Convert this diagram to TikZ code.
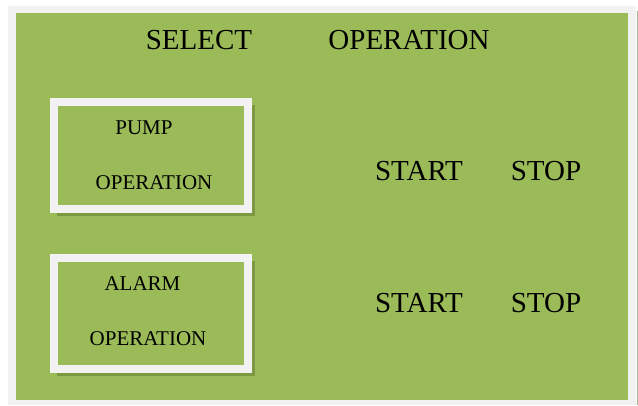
\documentclass[tikz,border=0pt]{standalone}
\usepackage{fontspec}
\setmainfont{Liberation Serif}
\begin{document}
\begin{tikzpicture}[x=1pt,y=-1pt,
  bigtxt/.style={font=\fontsize{29}{31}\selectfont, text=black, inner sep=0pt},
  smalltxt/.style={font=\fontsize{21}{23}\selectfont, text=black, inner sep=0pt},
  framebox/.style={draw=framegray, line width=8pt, fill=panelgreen},
  shadowbox/.style={fill=shadowgreen}]
\definecolor{panelgreen}{HTML}{9BBB59}
\definecolor{framegray}{HTML}{F2F2F2}
\definecolor{shadowgreen}{HTML}{76923C}
\definecolor{edgegray}{HTML}{A9B59C}
\useasboundingbox (0,0) rectangle (638,405);
\fill[white] (0,0) rectangle (638,405);
% outer gray border and right-edge strip
\fill[framegray] (8,6) rectangle (635.5,405);
\fill[edgegray] (636.5,11) rectangle (638,405);
% green panel
\fill[panelgreen] (16,13) rectangle (628,400);
% pump box
\fill[shadowgreen!85!panelgreen] (57,105) rectangle (255,216);
\draw[framebox] (54,102) rectangle (248,209);
\node[smalltxt] (pump1) at (144,127.5) {PUMP};
\node[smalltxt] (pump2) at (154,183) {OPERATION};
% alarm box
\fill[shadowgreen!85!panelgreen] (57,261) rectangle (255,376);
\draw[framebox] (54,258) rectangle (248,369);
\node[smalltxt] (alarm1) at (142.5,283.5) {ALARM};
\node[smalltxt] (alarm2) at (148,339) {OPERATION};
% header
\node[bigtxt] (sel) at (199,40) {SELECT};
\node[bigtxt] (op) at (409,40) {OPERATION};
% start / stop
\node[bigtxt] (start1) at (419,171) {START};
\node[bigtxt] (stop1) at (546,171) {STOP};
\node[bigtxt] (start2) at (419,303) {START};
\node[bigtxt] (stop2) at (546,303) {STOP};
\end{tikzpicture}
\end{document}
